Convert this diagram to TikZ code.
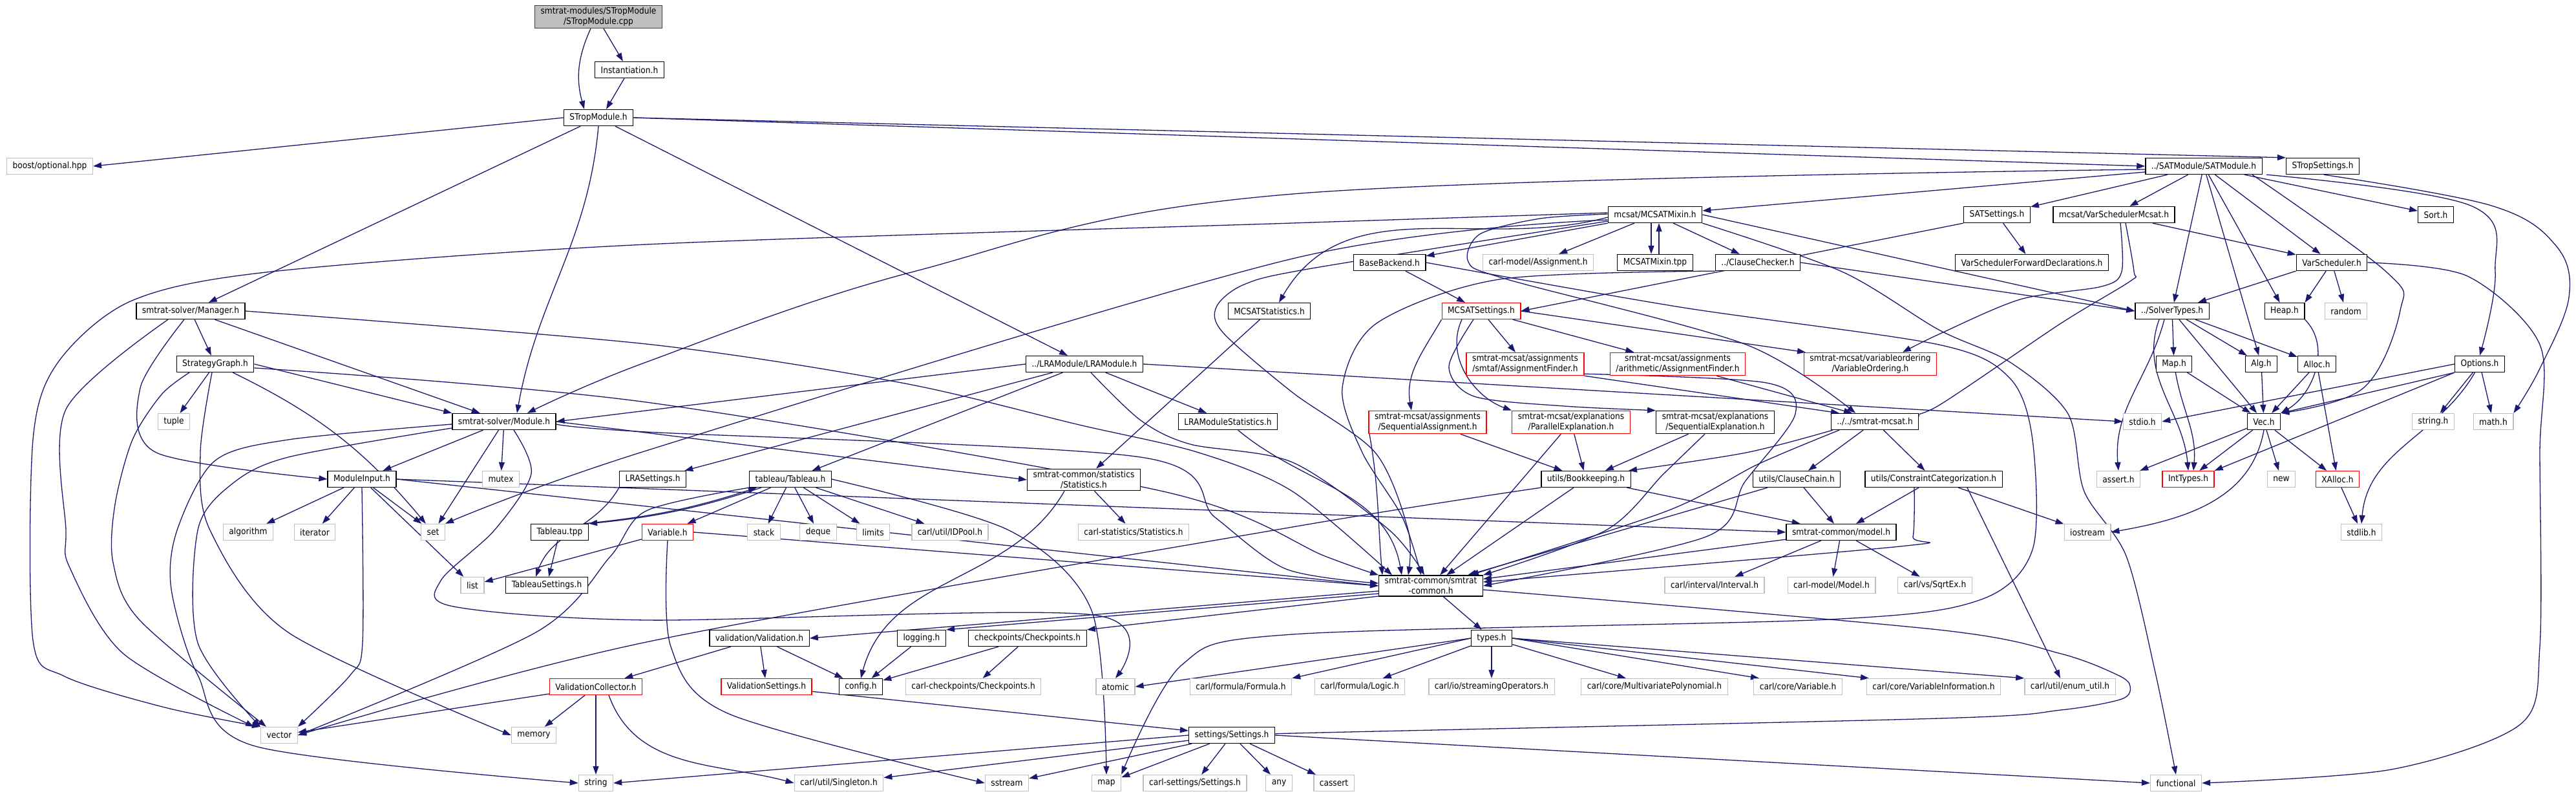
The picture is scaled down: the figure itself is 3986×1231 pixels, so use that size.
\documentclass[tikz,border=0pt]{standalone}
\usepackage{fontspec}
\setmainfont{DejaVu Sans Condensed}
\usetikzlibrary{arrows.meta}
\definecolor{edgec}{HTML}{191970}
\definecolor{extc}{HTML}{BFBFBF}
\definecolor{rootc}{HTML}{BFBFBF}
\definecolor{rootb}{HTML}{404040}
\newcommand{\nodefnt}{\fontsize{13.6}{16}\selectfont}
\pgfdeclarelayer{bg}
\pgfsetlayers{bg,main}
\tikzset{
  nb/.style={draw, rectangle, line width=1.3pt, inner xsep=9pt, inner ysep=3pt, minimum height=25pt, font=\nodefnt, fill=white, align=center},
  doc/.style={nb, draw=black},
  ext/.style={nb, draw=extc},
  redn/.style={nb, draw=red},
  root/.style={nb, draw=rootb, fill=rootc},
  e/.style={draw=edgec, line width=1.3pt, -{Triangle[length=13pt,width=9pt]}},
}
\begin{document}
\begin{tikzpicture}[x=1pt,y=-1pt]
\useasboundingbox (0,0) rectangle (3986,1231);
% ---------- nodes ----------
\node[root] (cpp) at (926,26) {smtrat-modules/STropModule\\/STropModule.cpp};
\node[doc] (inst) at (974,108) {Instantiation.h};
\node[doc] (strop) at (926,182) {STropModule.h};
\node[ext] (boost) at (77,257) {boost/optional.hpp};
\node[doc] (sat) at (3410,257) {../SATModule/SATModule.h};
\node[doc] (stropset) at (3594,257) {STropSettings.h};
\node[doc] (mix) at (2561,332) {mcsat/MCSATMixin.h};
\node[doc] (satset) at (3090,332) {SATSettings.h};
\node[doc] (vsm) at (3271,332) {mcsat/VarSchedulerMcsat.h};
\node[doc] (sort) at (3769,332) {Sort.h};
\node[doc] (bb) at (2150,406) {BaseBackend.h};
\node[ext] (asg) at (2380,406) {carl-model/Assignment.h};
\node[doc] (tpp) at (2561,406) {MCSATMixin.tpp};
\node[doc] (cc) at (2720,406) {../ClauseChecker.h};
\node[doc] (vsfd) at (3144,406) {VarSchedulerForwardDeclarations.h};
\node[doc] (vs) at (3608,406) {VarScheduler.h};
\node[doc] (mgr) at (295,481) {smtrat-solver/Manager.h};
\node[doc] (mstat) at (1964,481) {MCSATStatistics.h};
\node[redn] (mset) at (2292,481) {MCSATSettings.h};
\node[doc] (st) at (3361,481) {../SolverTypes.h};
\node[doc] (heap) at (3535,481) {Heap.h};
\node[ext] (random) at (3630,481) {random};
\node[doc] (sg) at (333,563) {StrategyGraph.h};
\node[doc] (lra) at (1678,563) {../LRAModule/LRAModule.h};
\node[redn] (afs) at (2360,563) {smtrat-mcsat/assignments\\/smtaf/AssignmentFinder.h};
\node[redn] (afa) at (2596,563) {smtrat-mcsat/assignments\\/arithmetic/AssignmentFinder.h};
\node[redn] (vo) at (2894,563) {smtrat-mcsat/variableordering\\/VariableOrdering.h};
\node[doc] (maph) at (3364,563) {Map.h};
\node[doc] (alg) at (3499,563) {Alg.h};
\node[doc] (alloc) at (3585,563) {Alloc.h};
\node[doc] (opt) at (3837,563) {Options.h};
\node[ext] (tuple) at (269,652) {tuple};
\node[doc] (mod) at (780,652) {smtrat-solver/Module.h};
\node[doc] (lrastat) at (1900,652) {LRAModuleStatistics.h};
\node[redn] (sa) at (2209,653) {smtrat-mcsat/assignments\\/SequentialAssignment.h};
\node[redn] (pe) at (2431,653) {smtrat-mcsat/explanations\\/ParallelExplanation.h};
\node[doc] (se) at (2654,653) {smtrat-mcsat/explanations\\/SequentialExplanation.h};
\node[doc] (mcsat) at (2901,652) {../../smtrat-mcsat.h};
\node[ext] (stdio) at (3315,652) {stdio.h};
\node[doc] (vec) at (3503,652) {Vec.h};
\node[ext] (stringh) at (3765,652) {string.h};
\node[ext] (math) at (3858,652) {math.h};
\node[doc] (mi) at (560,741) {ModuleInput.h};
\node[ext] (mutex) at (775,741) {mutex};
\node[doc] (lraset) at (1010,741) {LRASettings.h};
\node[doc] (tab) at (1223,741) {tableau/Tableau.h};
\node[doc] (stats) at (1677,742) {smtrat-common/statistics\\/Statistics.h};
\node[doc] (bk) at (2454,741) {utils/Bookkeeping.h};
\node[doc] (cch) at (2780,741) {utils/ClauseChain.h};
\node[doc] (ccat) at (2992,741) {utils/ConstraintCategorization.h};
\node[ext] (assert) at (3278,741) {assert.h};
\node[redn] (inttypes) at (3386,741) {IntTypes.h};
\node[ext] (new) at (3530,741) {new};
\node[redn] (xalloc) at (3617,741) {XAlloc.h};
\node[ext] (algorithm) at (384,823) {algorithm};
\node[ext] (iterator) at (487,823) {iterator};
\node[ext] (set) at (670,823) {set};
\node[doc] (tabtpp) at (866,823) {Tableau.tpp};
\node[redn] (var) at (1033,823) {Variable.h};
\node[ext] (stack) at (1182,823) {stack};
\node[ext] (deque) at (1266,823) {deque};
\node[ext] (limits) at (1351,823) {limits};
\node[ext] (idpool) at (1470,823) {carl/util/IDPool.h};
\node[ext] (cstat) at (1754,823) {carl-statistics/Statistics.h};
\node[doc] (model) at (2849,823) {smtrat-common/model.h};
\node[ext] (iostream) at (3230,823) {iostream};
\node[ext] (stdlib) at (3654,823) {stdlib.h};
\node[ext] (list) at (731,905) {list};
\node[doc] (tabset) at (846,905) {TableauSettings.h};
\node[doc] (common) at (2214,906) {smtrat-common/smtrat\\-common.h};
\node[ext] (interval) at (2653,905) {carl/interval/Interval.h};
\node[ext] (cmodel) at (2834,905) {carl-model/Model.h};
\node[ext] (sqrtex) at (2994,905) {carl/vs/SqrtEx.h};
\node[doc] (valid) at (1175,987) {validation/Validation.h};
\node[doc] (logging) at (1426,987) {logging.h};
\node[doc] (chk) at (1590,987) {checkpoints/Checkpoints.h};
\node[doc] (types) at (2308,987) {types.h};
\node[redn] (vcoll) at (922,1062) {ValidationCollector.h};
\node[redn] (vset) at (1186,1062) {ValidationSettings.h};
\node[doc] (config) at (1332,1062) {config.h};
\node[ext] (cchk) at (1506,1062) {carl-checkpoints/Checkpoints.h};
\node[ext] (atomic) at (1726,1062) {atomic};
\node[ext] (formula) at (1920,1062) {carl/formula/Formula.h};
\node[ext] (logic) at (2104,1062) {carl/formula/Logic.h};
\node[ext] (stream) at (2308,1062) {carl/io/streamingOperators.h};
\node[ext] (mpoly) at (2560,1062) {carl/core/MultivariatePolynomial.h};
\node[ext] (cvar) at (2782,1062) {carl/core/Variable.h};
\node[ext] (vinfo) at (2992,1062) {carl/core/VariableInformation.h};
\node[ext] (enum) at (3203,1062) {carl/util/enum\_util.h};
\node[ext] (vector) at (432,1137) {vector};
\node[ext] (memory) at (826,1137) {memory};
\node[doc] (settings) at (1906,1137) {settings/Settings.h};
\node[ext] (string) at (922,1211) {string};
\node[ext] (singleton) at (1298,1211) {carl/util/Singleton.h};
\node[ext] (sstream) at (1558,1211) {sstream};
\node[ext] (map) at (1712,1211) {map};
\node[ext] (csettings) at (1849,1211) {carl-settings/Settings.h};
\node[ext] (any) at (1979,1211) {any};
\node[ext] (cassert) at (2064,1211) {cassert};
\node[ext] (functional) at (3367,1211) {functional};
% ---------- edges ----------
\begin{pgfonlayer}{bg}
\fill[white] (0,0) rectangle (3986,1231);
% top
\draw[e] ([xshift=-12pt]cpp.south) to[bend right=20] ([xshift=-22pt]strop.north);
\draw[e] ([xshift=8pt]cpp.south) -- ([xshift=-10pt]inst.north);
\draw[e] ([xshift=-8pt]inst.south) -- ([xshift=12pt]strop.north);
\draw[e] (strop.west) -- (boost.east);
\draw[e] (strop.east) -- (stropset.north west);
\draw[e] (strop.east) -- (sat.west);
\draw[e] (strop) -- (mgr);
\draw[e] (strop.south) to[out=-95,in=80] ([xshift=20pt]mod.north);
\draw[e] (strop) -- (lra);
% SATModule
\draw[e] plot[smooth,tension=0.6] coordinates {([yshift=-5pt]sat.west) (2000,300) (1414,420) (1000,560) ([xshift=36pt]mod.north)};
\draw[e] ([yshift=-9pt]sat.west) -- ([yshift=6pt]mix.east);
\draw[e] (sat) -- (satset);
\draw[e] (sat) -- (vsm);
\draw[e] (sat) -- (st);
\draw[e] (sat) -- (alg);
\draw[e] (sat) -- (heap);
\draw[e] (sat) -- (vs);
\draw[e] (sat) -- (sort);
\draw[e] plot[smooth,tension=0.6] coordinates {([xshift=75pt]sat.south) (3692,420) (3714,480) (3657,600) (vec.north east)};
\draw[e] plot[smooth,tension=0.6] coordinates {([xshift=97pt]sat.south) (3823,318) (3861,420) (opt.north)};
\draw[e] plot[smooth,tension=0.6] coordinates {([xshift=95pt]sat.south east) (3855,318) (3955,380) (3975,460) (3930,570) (math.north east)};
% MCSATMixin
\draw[e] (mix) -- (bb);
\draw[e] (mix) -- (asg);
\draw[e] ([xshift=-6pt]mix.south) -- ([xshift=-6pt]tpp.north);
\draw[e] ([xshift=6pt]tpp.north) -- ([xshift=6pt]mix.south);
\draw[e] (mix) -- (cc);
\draw[e] ([yshift=-4pt]mix.west) to[out=195,in=60] ([xshift=15pt]mstat.north);
\draw[e] (mix.east) -- (st.west);
\draw[e] plot[smooth,tension=0.5] coordinates {([yshift=3pt]mix.west) (2000,345) (1000,378) (421,420) (204,465) (90,560) (51,680) (51,990) (100,1046) (255,1094) (vector.north west)};
\draw[e] plot[smooth,tension=0.5] coordinates {([yshift=-8pt]mix.west) (2000,400) (1000,697) (set.north east)};
\draw[e] plot[smooth,tension=0.5] coordinates {([yshift=-10pt]mix.west) (2030,415) (1925,440) (1882,475) (1893,515) (2000,607) (2128,700) (2179,820) ([xshift=-35pt]common.north)};
\draw[e] plot[smooth,tension=0.5] coordinates {([yshift=1pt]mix.west) (2383,338) (2290,362) (2272,405) (2332,432) (2702,533) ([xshift=-30pt]mcsat.north)};
\draw[e] plot[smooth,tension=0.5] coordinates {(mix.south east) (2850,420) (3000,510) (3110,560) (3200,640) (3225,760) (3290,860) (3335,1040) (functional.north)};
% ClauseChecker, BaseBackend
\draw[e] (cc.east) -- (st.west);
\draw[e] plot[smooth,tension=0.5] coordinates {(cc.south west) (2320,432) (2130,500) (2077,600) (2108,700) (2170,800) ([xshift=-15pt]common.north)};
\draw[e] (bb) -- (mset);
\draw[e] plot[smooth,tension=0.5] coordinates {(bb.east) (2600,475) (3000,533) (3110,585) (3145,680) (3145,850) (3063,928) (2829,958) (2000,981) (1829,1028) (map.north east)};
% VarScheduler
\draw[e] (vs.south west) -- ([xshift=40pt]st.north);
\draw[e] (vs) -- (heap.north east);
\draw[e] (vs) -- (random);
\draw[e] plot[smooth,tension=0.5] coordinates {(vs.east) (3818,427) (3930,533) (3930,700) (3930,1000) (3900,1120) (3700,1190) (functional.east)};
\draw[e] (vsm) -- (vs);
\draw[e] plot[smooth,tension=0.5] coordinates {([xshift=10pt]vsm.south) (3283,420) (3252,443) (3126,463) (3000,517) ([xshift=50pt]vo.north)};
\draw[e] plot[smooth,tension=0.5] coordinates {([xshift=18pt]vsm.south) (3302,420) (3296,435) (3189,500) (3000,627) ([xshift=56pt]mcsat.north)};
\draw[e] (satset) -- (vsfd);
\draw[e] (satset.south west) -- (mset.east);
% MCSATSettings
\draw[e] (mset) -- (afs);
\draw[e] (mset) -- (afa);
\draw[e] (mset.east) -- ([xshift=-100pt]vo.north);
\draw[e] (mset.south west) to[out=-120,in=100] ([xshift=-25pt]sa.north);
\draw[e] ([xshift=-30pt]mset.south) to[out=-115,in=160] (pe.north west);
\draw[e] plot[smooth,tension=0.5] coordinates {([xshift=-12pt]mset.south) (2242,567) (2281,613) (2420,628) (se.north west)};
\draw[e] (afs.south east) -- ([xshift=-55pt]mcsat.north);
\draw[e] ([xshift=60pt]afa.south) -- ([xshift=-35pt]mcsat.north);
\draw[e] plot[smooth,tension=0.5] coordinates {([yshift=3pt]afs.south east) (2733,592) (2778,640) (2700,745) (2640,830) (common.east)};
% assignments / explanations
\draw[e] (sa) -- (bk);
\draw[e] (pe) -- (bk);
\draw[e] (se) -- (bk);
\draw[e] ([xshift=-90pt]sa.south) to[out=-80,in=95] ([xshift=-75pt]common.north);
\draw[e] (pe) -- (common);
\draw[e] plot[smooth,tension=0.5] coordinates {([xshift=-16pt]se.south) (2574,733) (2485,820) (common.north east)};
\draw[e] plot[smooth,tension=0.5] coordinates {([xshift=-65pt]mcsat.south) (2702,700) ([xshift=66pt]bk.north)};
\draw[e] plot[smooth,tension=0.5] coordinates {([xshift=-55pt]mcsat.south) (2720,718) (2580,790) ([xshift=-20pt]common.north east)};
\draw[e] (mcsat) -- (cch);
\draw[e] (mcsat) -- (ccat);
% utils
\draw[e] (bk) -- (model);
\draw[e] (bk) -- (common);
\draw[e] plot[smooth,tension=0.5] coordinates {(bk.south west) (2000,815) (1000,993) (vector.east)};
\draw[e] (cch) -- (model);
\draw[e] (cch) -- (common);
\draw[e] (ccat) -- (model);
\draw[e] plot[smooth,tension=0.5] coordinates {([xshift=-30pt]ccat.south) (2960,830) (2940,845) ([yshift=6pt]common.east)};
\draw[e] (ccat) -- (iostream);
\draw[e] ([xshift=52pt]ccat.south) -- ([xshift=-15pt]enum.north);
% model
\draw[e] (model) -- (interval);
\draw[e] (model) -- (cmodel);
\draw[e] (model) -- (sqrtex);
\draw[e] (model) -- (common);
% smtrat-common
\draw[e] ([yshift=-8pt]common.west) -- (valid.east);
\draw[e] ([yshift=-12pt]common.west) -- (logging.north east);
\draw[e] ([yshift=-16pt]common.west) -- (chk.north east);
\draw[e] (common) -- (types);
\draw[e] plot[smooth,tension=0.5] coordinates {([yshift=-6pt]common.east) (3000,974) (3189,1011) (3277,1044) (3296,1061) (3283,1081) (3189,1098) (3000,1111) (2000,1134) (settings.east)};
% types
\draw[e] (types.west) -- (atomic.east);
\draw[e] (types.west) -- (formula.north east);
\draw[e] (types) -- (logic);
\draw[e] (types) -- (stream);
\draw[e] (types) -- (mpoly);
\draw[e] (types.east) -- ([xshift=-60pt]cvar.north);
\draw[e] (types.east) -- ([xshift=-100pt]vinfo.north);
\draw[e] (types.east) -- (enum.north west);
% validation
\draw[e] (valid) -- (vcoll);
\draw[e] (valid) -- (vset);
\draw[e] (valid) -- (config);
\draw[e] (logging) -- (config);
\draw[e] (chk) -- (config);
\draw[e] (chk) -- (cchk);
\draw[e] (vcoll) -- (vector);
\draw[e] (vcoll) -- (memory);
\draw[e] (vcoll) -- (string);
\draw[e] ([xshift=20pt]vcoll.south) to[out=-70,in=165] (singleton.west);
\draw[e] (vset) -- (settings);
\draw[e] (stats) -- (cstat);
\draw[e] ([xshift=-30pt]stats.south) to[out=-120,in=75] (config.north);
% settings
\draw[e] (settings.west) -- (string.east);
\draw[e] (settings) -- (singleton);
\draw[e] (settings) -- (sstream);
\draw[e] (settings) -- (map);
\draw[e] (settings) -- (csettings);
\draw[e] (settings) -- (any);
\draw[e] (settings) -- (cassert);
\draw[e] (settings.east) -- (functional.west);
% Module
\draw[e] (mod) -- (mi);
\draw[e] (mod) -- (mutex);
\draw[e] (mod) -- (set);
\draw[e] plot[smooth,tension=0.5] coordinates {([yshift=-10pt]mod.west) (446,707) (357,750) (306,820) (306,994) (vector.north west)};
\draw[e] plot[smooth,tension=0.5] coordinates {([yshift=-4pt]mod.west) (446,680) (332,713) (274,820) (265,911) (306,1044) (395,1154) (string.west)};
\draw[e] plot[smooth,tension=0.5] coordinates {([xshift=15pt]mod.south) (822,733) (765,820) (682,898) (702,938) (1000,959) (1692,951) (atomic.north)};
\draw[e] (mod.east) -- (stats.west);
\draw[e] plot[smooth,tension=0.5] coordinates {([yshift=-4pt]mod.east) (1000,668) (1765,707) (1880,800) (1990,880) ([yshift=4pt]common.west)};
% ModuleInput
\draw[e] (mi) -- (algorithm);
\draw[e] (mi) -- (iterator);
\draw[e] (mi) -- (set);
\draw[e] (mi) -- (list);
\draw[e] plot[smooth,tension=0.5] coordinates {(mi.south) (561,994) (542,1044) (vector.north east)};
\draw[e] (mi.east) -- (model.west);
\draw[e] (mi.east) -- (common.west);
% Manager
\draw[e] (mgr) -- (sg);
\draw[e] (mgr) -- (mod);
\draw[e] plot[smooth,tension=0.5] coordinates {([xshift=-10pt]mgr.south) (217,600) (242,700) (mi.west)};
\draw[e] plot[smooth,tension=0.5] coordinates {([xshift=-35pt]mgr.south) (102,633) (102,820) (108,878) (191,1011) ([xshift=-10pt]vector.north west)};
\draw[e] plot[smooth,tension=0.5] coordinates {(mgr.east) (1000,532) (1395,592) (1670,657) (1855,700) (2000,760) ([xshift=-60pt]common.north)};
% StrategyGraph
\draw[e] (sg) -- (tuple);
\draw[e] (sg.east) -- (mod.north west);
\draw[e] (sg) to[bend left=12] (set);
\draw[e] plot[smooth,tension=0.5] coordinates {([xshift=-40pt]sg.south) (250,610) (205,680) (178,780) (175,870) (217,960) ([xshift=-20pt]vector.north)};
\draw[e] plot[smooth,tension=0.5] coordinates {([xshift=-5pt]sg.south) (310,700) (325,820) (446,978) (memory.west)};
\draw[e] plot[smooth,tension=0.5] coordinates {([yshift=-6pt]sg.east) (1000,622) (1800,760) (2050,860) (common.north west)};
% LRAModule
\draw[e] (lra.west) -- (mod.east);
\draw[e] (lra) -- (lraset);
\draw[e] (lra) -- (tab);
\draw[e] (lra) -- (lrastat);
\draw[e] plot[smooth,tension=0.5] coordinates {([xshift=10pt]lra.south) (1765,650) (1842,687) (2000,715) (2150,820) ([xshift=-10pt]common.north)};
\draw[e] (lra.east) -- (stdio.west);
% tableau
\draw[e] ([xshift=-45pt]tab.south) to[bend left=6] (tabtpp.north east);
\draw[e] ([xshift=-8pt]tabtpp.north east) to[bend right=6] ([xshift=-52pt]tab.south);
\draw[e] (tab) -- (var);
\draw[e] (tab) -- (stack);
\draw[e] (tab) -- (deque);
\draw[e] (tab) -- (limits);
\draw[e] (tab) -- (idpool);
\draw[e] plot[smooth,tension=0.5] coordinates {(tab.east) (1561,820) (1689,944) (map.north)};
\draw[e] plot[smooth,tension=0.5] coordinates {(tab.south west) (1000,790) (944,861) (829,978) (vector.east)};
\draw[e] (tabtpp) -- (tabset);
\draw[e] (lraset.south west) to[out=-120,in=70] ([xshift=-17pt]tabset.north);
\draw[e] (var) -- (list);
\draw[e] (var.east) -- (common.west);
\draw[e] plot[smooth,tension=0.5] coordinates {(var.south) (1038,1000) (1128,1104) (sstream.west)};
\draw[e] (mstat) -- (stats);
\draw[e] (lrastat) to[out=-40,in=100] ([xshift=-45pt]common.north);
% SolverTypes
\draw[e] (st) -- (maph);
\draw[e] (st) -- (alg);
\draw[e] (st) -- (alloc);
\draw[e] (st) -- (vec);
\draw[e] ([xshift=-12pt]st.south) to[out=-105,in=95] (assert.north);
\draw[e] ([xshift=-20pt]st.south) to[out=-110,in=95] (inttypes.north);
\draw[e] (maph) -- (vec);
\draw[e] (maph) to[out=-80,in=85] ([xshift=8pt]inttypes.north);
\draw[e] (alg) -- (vec);
\draw[e] (alloc) -- (vec);
\draw[e] (alloc) -- (xalloc);
\draw[e] (heap.south east) to[out=-45,in=30] (vec.north east);
\draw[e] (opt.west) -- (stdio.east);
\draw[e] (opt.south west) -- (vec.north east);
\draw[e] (opt.south west) -- (inttypes.north east);
\draw[e] (opt) -- (stringh);
\draw[e] (opt) -- (math);
\draw[e] (opt) to[out=-120,in=85] (stdlib.north);
\draw[e] (vec) -- (assert);
\draw[e] (vec) -- (inttypes);
\draw[e] (vec) -- (new);
\draw[e] (vec) -- (xalloc);
\draw[e] (vec.south) to[out=-100,in=10] (iostream.east);
\draw[e] (xalloc) -- (stdlib);
\end{pgfonlayer}
\end{tikzpicture}
\end{document}
